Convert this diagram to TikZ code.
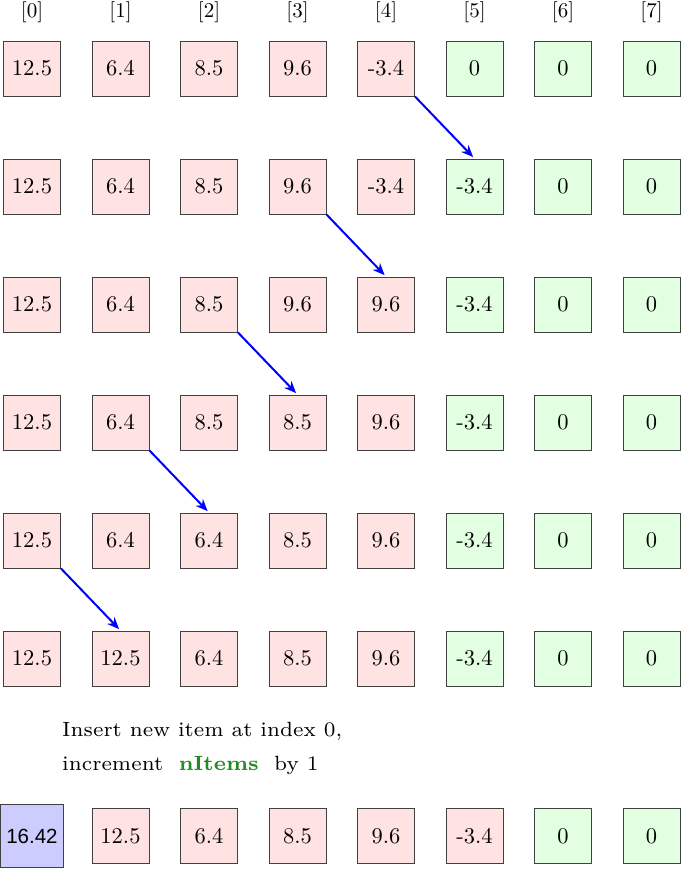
\documentclass[tikz,border=0pt]{standalone}
\usepackage{fontspec}
\newfontfamily\boxsans{Liberation Sans}
\newfontfamily\cellfont{lmroman10-regular}[Extension=.otf]
\newfontfamily\notefont{lmroman7-regular}[Extension=.otf, BoldFont=lmroman7-bold]
\usetikzlibrary{arrows.meta}
\definecolor{pinkfill}{RGB}{255,226,226}
\definecolor{greenfill}{RGB}{226,255,226}
\definecolor{bluefill}{RGB}{204,204,255}
\definecolor{itemgreen}{RGB}{34,139,34}
\tikzset{
  cell/.style={draw=black!75, line width=0.9pt, minimum width=57pt, minimum height=55pt, inner sep=0pt, font=\cellfont\fontsize{22.5}{26}\selectfont},
  pinkbox/.style={cell, fill=pinkfill},
  greenbox/.style={cell, fill=greenfill},
  bluebox/.style={cell, fill=bluefill, minimum width=63pt, minimum height=63pt, font=\boxsans\fontsize{20.5}{24}\selectfont},
  idx/.style={anchor=base, inner sep=0pt, font=\cellfont\fontsize{21}{25}\selectfont},
  note/.style={anchor=base west, inner sep=0pt, font=\notefont\fontsize{20.6}{24}\selectfont},
  moveArrow/.style={draw=blue, line width=2pt, -{Stealth[length=12pt,width=10pt]}, shorten >=2pt}
}
\begin{document}
\begin{tikzpicture}[x=1pt,y=-1pt]
\useasboundingbox (0,0) rectangle (681,869);
% index labels
\foreach \c in {0,...,7} \node[idx] (i\c) at ({32+88.5*\c},17.5) {[\c]};
% rows
\foreach \v [count=\c from 0] in {12.5,6.4,8.5,9.6,-3.4}
  \node[pinkbox] (n0-\c) at ({32+88.5*\c},68.5) {\v};
\foreach \v [count=\c from 5] in {0,0,0}
  \node[greenbox] (n0-\c) at ({32+88.5*\c},68.5) {\v};
\foreach \v [count=\c from 0] in {12.5,6.4,8.5,9.6,-3.4}
  \node[pinkbox] (n1-\c) at ({32+88.5*\c},186.5) {\v};
\foreach \v [count=\c from 5] in {-3.4,0,0}
  \node[greenbox] (n1-\c) at ({32+88.5*\c},186.5) {\v};
\foreach \v [count=\c from 0] in {12.5,6.4,8.5,9.6,9.6}
  \node[pinkbox] (n2-\c) at ({32+88.5*\c},304.5) {\v};
\foreach \v [count=\c from 5] in {-3.4,0,0}
  \node[greenbox] (n2-\c) at ({32+88.5*\c},304.5) {\v};
\foreach \v [count=\c from 0] in {12.5,6.4,8.5,8.5,9.6}
  \node[pinkbox] (n3-\c) at ({32+88.5*\c},422.5) {\v};
\foreach \v [count=\c from 5] in {-3.4,0,0}
  \node[greenbox] (n3-\c) at ({32+88.5*\c},422.5) {\v};
\foreach \v [count=\c from 0] in {12.5,6.4,6.4,8.5,9.6}
  \node[pinkbox] (n4-\c) at ({32+88.5*\c},540.5) {\v};
\foreach \v [count=\c from 5] in {-3.4,0,0}
  \node[greenbox] (n4-\c) at ({32+88.5*\c},540.5) {\v};
\foreach \v [count=\c from 0] in {12.5,12.5,6.4,8.5,9.6}
  \node[pinkbox] (n5-\c) at ({32+88.5*\c},658.5) {\v};
\foreach \v [count=\c from 5] in {-3.4,0,0}
  \node[greenbox] (n5-\c) at ({32+88.5*\c},658.5) {\v};
% final row
\node[bluebox] (n6-0) at (32,836) {16.42};
\foreach \v [count=\c from 1] in {12.5,6.4,8.5,9.6,-3.4}
  \node[pinkbox] (n6-\c) at ({32+88.5*\c},836) {\v};
\foreach \v [count=\c from 6] in {0,0}
  \node[greenbox] (n6-\c) at ({32+88.5*\c},836) {\v};
% arrows
\draw[moveArrow] (n0-4.south east) -- (n1-5.north);
\draw[moveArrow] (n1-3.south east) -- (n2-4.north);
\draw[moveArrow] (n2-2.south east) -- (n3-3.north);
\draw[moveArrow] (n3-1.south east) -- (n4-2.north);
\draw[moveArrow] (n4-0.south east) -- (n5-1.north);
% note
\node[note] (t1) at (62,736) {Insert new item at index 0,};
\node[note] (t2) at (62,770) {increment\hspace{0.75em}\textcolor{itemgreen}{\textbf{nItems}}\hspace{0.75em}by 1};
\end{tikzpicture}
\end{document}
